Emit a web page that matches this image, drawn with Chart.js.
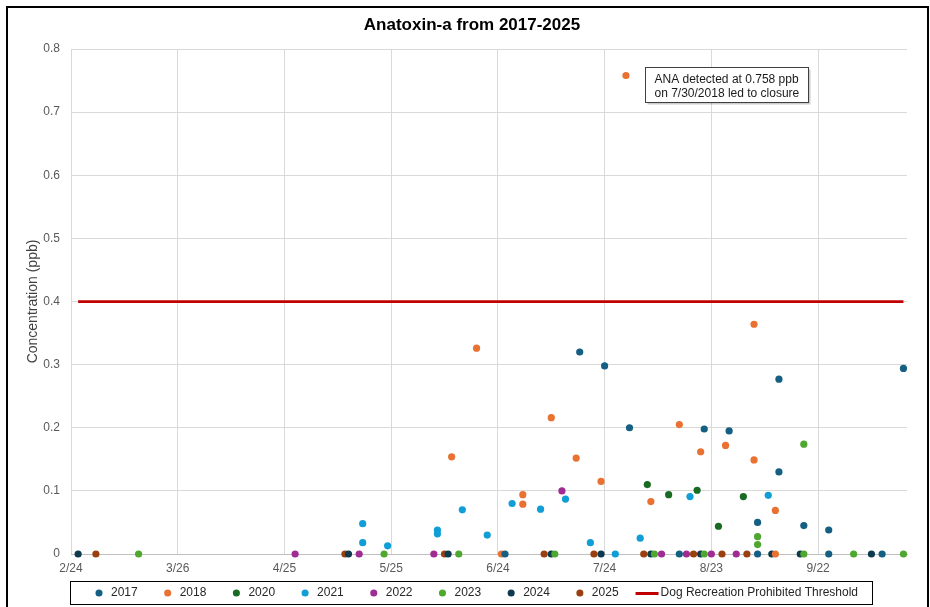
<!DOCTYPE html>
<html><head><meta charset="utf-8">
<script src="https://cdn.jsdelivr.net/npm/chart.js@4/dist/chart.umd.min.js"></script>
<style>
html,body{margin:0;padding:0;background:#fff;}
#wrap{position:relative;width:930px;height:607px;overflow:hidden;}
#frame{position:absolute;left:6px;top:6px;width:923px;height:640px;border:2px solid #000;box-sizing:border-box;pointer-events:none;}
canvas{position:absolute;left:0;top:0;}
</style></head><body>
<div id="wrap"><canvas id="c" width="930" height="607"></canvas><div id="frame"></div></div>
<script>
// ---------- data ----------
const chartTitle = "Anatoxin-a from 2017-2025";
const yTitle = "Concentration (ppb)";
const tickLabels = ["2/24","3/26","4/25","5/25","6/24","7/24","8/23","9/22"];
const axisStart = "2/24";
const axisEnd = "10/17";
const yTicks = [0,0.1,0.2,0.3,0.4,0.5,0.6,0.7,0.8];

const years = ["2017","2018","2020","2021","2022","2023","2024","2025"];

const dates2017 = ["6/26","7/17","7/24","7/31","8/14","8/21","8/28","9/5","9/5","9/11","9/11","9/18","9/25","9/25","10/10","10/16"];
const values2017 = [0,0.32,0.298,0.20,0,0.198,0.195,0.05,0,0.277,0.13,0.045,0.038,0,0,0.294];

const dates2018 = ["6/11","6/18","6/25","7/1","7/1","7/9","7/16","7/23","7/30","8/6","8/14","8/20","8/27","9/4","9/4","9/10","9/10"];
const values2018 = [0.154,0.326,0,0.094,0.079,0.216,0.152,0.115,0.758,0.083,0.205,0.162,0.172,0.364,0.149,0.069,0];

const dates2020 = ["8/5","8/11","8/19","8/25","9/1"];
const values2020 = [0.110,0.094,0.101,0.044,0.091];

const dates2021 = ["5/17","5/17","5/24","6/7","6/7","6/14","6/21","6/28","7/6","7/13","7/20","7/27","8/3","8/17","9/8"];
const values2021 = [0.048,0.018,0.013,0.038,0.032,0.070,0.030,0.080,0.071,0.087,0.018,0,0.025,0.091,0.093];

const dates2022 = ["4/28","5/16","6/6","7/12","8/9","8/16","8/23","8/30"];
const values2022 = [0,0,0,0.100,0,0,0,0];

const dates2023 = ["3/15","5/23","6/13","7/10","8/7","8/21","9/5","9/5","9/18","9/18","10/2","10/16"];
const values2023 = [0,0,0,0,0,0,0.0275,0.015,0.174,0,0,0];

const dates2024 = ["2/26","5/13","6/10","7/9","7/23","8/6","8/20","9/9","9/17","10/7"];
const values2024 = [0,0,0,0,0,0,0,0,0,0];

const dates2025 = ["3/3","5/12","6/9","7/7","7/21","8/4","8/18","8/26","9/2"];
const values2025 = [0,0,0,0,0,0,0,0,0];

const thresholdLabel = "Dog Recreation Prohibited Threshold";
const thresholdValue = 0.4;
const thresholdDates = ["2/26","10/16"];

const noteLines = ["ANA detected at 0.758 ppb","on 7/30/2018 led to closure"];
const noteDate = "7/30";
const noteValue = 0.758;

// ---------- styles ----------
const colors = ["#156082","#E97132","#196B24","#0F9ED5","#A02B93","#4EA72E","#0D3A4E","#9A4010"];
const thresholdColor = "#C00000";
const FONT = "'Liberation Sans', Arial, Helvetica, sans-serif";

// ---------- helpers ----------
const cum = [0,31,59,90,120,151,181,212,243,273,304,334];
function dayOfYear(md){ const p = md.split('/').map(Number); return cum[p[0]-1] + p[1]; }
function dayOffset(md){ return dayOfYear(md) - dayOfYear(axisStart); }
function pts(ds, vs){ return ds.map((d,i)=>({x:dayOffset(d), y:vs[i]})); }

const seriesDates = [dates2017,dates2018,dates2020,dates2021,dates2022,dates2023,dates2024,dates2025];
const seriesValues = [values2017,values2018,values2020,values2021,values2022,values2023,values2024,values2025];

const lineImg = document.createElement('canvas');
lineImg.width = 28; lineImg.height = 3;
(function(){ const c = lineImg.getContext('2d'); c.fillStyle = thresholdColor; c.fillRect(1,0,23,3); })();

const datasets = years.map((yr,i)=>({
  label: yr,
  data: pts(seriesDates[i], seriesValues[i]),
  backgroundColor: colors[i],
  borderColor: colors[i],
  borderWidth: 0,
  pointRadius: 3.6,
  pointHoverRadius: 3.6,
  pointStyle: 'circle',
  clip: false
}));
datasets.push({
  label: thresholdLabel,
  data: thresholdDates.map(d=>({x:dayOffset(d), y:thresholdValue})),
  showLine: true,
  borderColor: thresholdColor,
  backgroundColor: thresholdColor,
  borderWidth: 2.75,
  pointRadius: 0,
  pointHoverRadius: 0,
  pointStyle: lineImg,
  clip: false
});

// ---------- plugins ----------
const layoutTweak = {
  id: 'layoutTweak',
  afterLayout(chart){
    const lg = chart.legend;
    const dx = chart.chartArea.left - 2 - lg.left;
    lg.left += dx; lg.right += dx;
    lg.top -= 13; lg.bottom -= 13;
    const tb = chart.titleBlock;
    if (tb){ tb.left += 8; tb.right += 8; }
  },
  afterDraw(chart){
    const lg = chart.legend, hb = lg.legendHitBoxes;
    if (!hb || !hb.length) return;
    const ctx = chart.ctx;
    const last = hb[hb.length-1];
    const l = Math.round(chart.chartArea.left - 1) + 0.5;
    const r = Math.round(last.left + last.width + 14) + 0.5;
    const t = Math.round(hb[0].top - 6) + 0.5;
    const b = Math.round(hb[0].top + hb[0].height + 5) + 0.5;
    ctx.save();
    ctx.strokeStyle = '#000'; ctx.lineWidth = 1;
    ctx.strokeRect(l, t, r - l, b - t);
    ctx.restore();
  }
};

const notePlugin = {
  id: 'note',
  afterDatasetsDraw(chart){
    const {ctx, scales:{x, y}} = chart;
    const px = x.getPixelForValue(dayOffset(noteDate));
    const py = y.getPixelForValue(noteValue);
    ctx.save();
    ctx.font = "12px " + FONT;
    const w = Math.round(Math.max(...noteLines.map(t=>ctx.measureText(t).width)) + 18);
    const h = 35;
    const bx = Math.round(px + 19) + 0.5, by = Math.round(py - 9) + 0.5;
    ctx.fillStyle = 'rgba(0,0,0,0.2)'; ctx.fillRect(bx + 2, by + 2, w, h);
    ctx.fillStyle = '#fff'; ctx.fillRect(bx, by, w, h);
    ctx.strokeStyle = '#404040'; ctx.lineWidth = 1; ctx.strokeRect(bx, by, w, h);
    ctx.fillStyle = '#1a1a1a'; ctx.textBaseline = 'middle'; ctx.textAlign = 'left';
    noteLines.forEach((t,i)=>ctx.fillText(t, bx + 9, by + 12.5 + i*13.5));
    ctx.restore();
  }
};

Chart.defaults.font.family = FONT;

new Chart(document.getElementById('c'), {
  type: 'scatter',
  data: { datasets },
  options: {
    responsive: false,
    animation: false,
    devicePixelRatio: 1,
    layout: { padding: { left: 21, right: 23, top: 4, bottom: -15 } },
    scales: {
      x: {
        type: 'linear',
        min: dayOffset(axisStart),
        max: dayOffset(axisEnd),
        afterBuildTicks(s){ s.ticks = tickLabels.map(l=>({value: dayOffset(l)})); },
        afterFit(s){ s.height = 22; },
        ticks: {
          autoSkip: false,
          maxRotation: 0,
          padding: 7,
          color: '#595959',
          font: { size: 12 },
          callback(v){ const i = tickLabels.findIndex(l=>dayOffset(l)===v); return i >= 0 ? tickLabels[i] : ''; }
        },
        grid: { color: '#d9d9d9', lineWidth: 1, drawTicks: false },
        border: { color: '#bfbfbf', width: 1 }
      },
      y: {
        min: yTicks[0],
        max: yTicks[yTicks.length-1],
        afterBuildTicks(s){ s.ticks = yTicks.map(v=>({value:v})); },
        afterFit(s){ s.width = 50; },
        ticks: {
          padding: 11,
          color: '#595959',
          font: { size: 12 },
          callback(v){ return v === 0 ? '0' : v.toFixed(1); }
        },
        grid: { color: '#d9d9d9', lineWidth: 1, drawTicks: false },
        border: { display: false },
        title: { display: true, text: yTitle, color: '#404040', font: { size: 14 }, padding: { top: 4, bottom: 4 } }
      }
    },
    plugins: {
      title: {
        display: true, text: chartTitle, color: '#000',
        font: { size: 17, weight: 'bold' },
        padding: { top: 11, bottom: 13.6 }
      },
      legend: {
        position: 'bottom',
        align: 'start',
        labels: {
          usePointStyle: true,
          boxWidth: 12,
          boxHeight: 5,
          padding: 24,
          color: '#262626',
          font: { size: 12 }
        }
      },
      tooltip: { enabled: false }
    }
  },
  plugins: [layoutTweak, notePlugin]
});
</script>
</body></html>
